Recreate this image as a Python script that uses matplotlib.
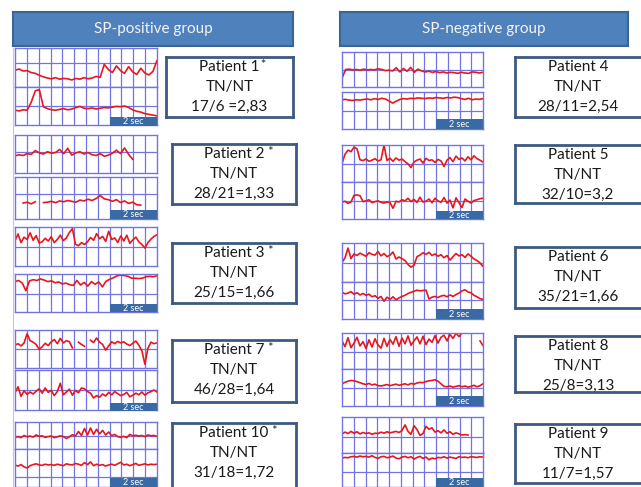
import numpy as np
import matplotlib
matplotlib.use("Agg")
import matplotlib.pyplot as plt

W, H = 641, 487
nan = np.nan

# ---------------- data ----------------
group_titles = ["SP-positive group", "SP-negative group"]
patient_ids = ["1", "2", "3", "7", "10", "4", "5", "6", "8", "9"]
sp_marked = [True, True, True, True, True, False, False, False, False, False]
asterisk_text = ["*", " *", " *", " *", " *", "", "", "", "", ""]
ratio_labels = ["17/6 =2,83", "28/21=1,33", "25/15=1,66", "46/28=1,64", "31/18=1,72",
                "28/11=2,54", "32/10=3,2", "35/21=1,66", "25/8=3,13", "11/7=1,57"]
record_seconds = 6.0
scale_seconds = 2.0

p1_top = [4.3, 4.6, 4.1, 4.2, 3.7, 3.5, 3.0, 2.6, 2.3, 2.1, 2.4, 2.0, 2.2, 2.1, 1.8, 2.2, 2.0, 2.4,
          2.1, 2.3, 2.7, 2.5, 5.8, 4.5, 3.7, 5.4, 4.2, 3.5, 5.2, 3.9, 3.2, 4.8, 3.6, 3.1, 4.0, 6.8]
p1_bot = [3.9, 3.7, 4.0, 3.9, 6.0, 9.0, 9.3, 4.8, 4.3, 4.0, 3.9, 4.1, 4.3, 4.0, 4.2, 4.6, 4.9, 4.4,
          4.3, 4.5, 4.2, 4.4, 4.6, 4.5, 4.7, 4.9, 4.8, 5.0, 4.6, 4.0, 3.6, 3.4, 3.0, 2.8, 2.6, 2.4]
p2_top = [4.5, 4.8, 4.6, 5.1, 4.9, 5.9, 5.3, 5.0, 5.6, 5.2, 5.4, 6.2, 5.1, 6.5, 4.7, 5.3, 5.6, 5.0,
          5.4, 4.8, 4.6, 5.1, 4.4, 4.7, 5.2, 6.0, 5.1, 6.6, 4.9, 3.6, nan, nan, nan, nan, nan, nan]
p2_bot = [3.0, nan, 3.8, 4.0, 3.6, 4.1, nan, 3.9, 4.0, 4.2, 3.9, 4.3, 4.1, 4.4, 4.2, 4.0, 4.5, 4.3,
          4.7, 4.4, 4.9, 5.6, 4.8, 4.6, 4.2, 4.6, 3.9, 4.3, 3.7, 4.0, 3.4, 3.3, nan, nan, nan, nan]
p3_top = [6.5, 8.2, 6.0, 7.4, 6.8, 8.5, 6.6, 7.8, 5.9, 6.2, 7.1, 6.4, 7.5, 6.0, 6.8, 7.9, 6.5, 7.2,
          8.6, 9.6, 5.6, 5.2, 6.0, 5.5, 6.2, 7.3, 6.6, 8.3, 7.0, 7.6, 6.3, 8.9, 6.8, 7.2, 6.0, 7.7,
          6.4, 7.9, 5.8, 6.7, 7.4, 6.2, 5.5, 4.6, 6.0, 6.9, 7.6, 8.0]
p3_bot = [8.0, 8.3, 7.6, 5.6, 8.2, 8.5, 8.3, 8.7, 8.4, 8.0, 8.2, 7.7, 7.9, 7.4, 7.6, 7.2, 7.0, 8.3,
          7.1, 7.8, 6.8, 8.0, 7.3, 7.9, 6.6, 8.1, 8.6, 9.0, 9.5, 9.7, 9.6, 9.4, 8.9, 8.9, 8.8, 8.9,
          9.3, 9.4, 9.3, 9.5]
p7_top = [6.0, 6.4, 5.8, 6.6, 9.0, 7.2, 6.8, 6.2, 4.9, 5.6, 6.5, 5.9, 6.9, 7.5, 6.4, 7.8, 6.6, 7.2,
          6.9, 5.3, nan, 6.8, 6.2, 5.7, nan, 7.3, 6.7, 7.9, 6.8, 6.2, 4.7, 5.8, 6.9, 6.4, 7.0, 6.6,
          6.9, 6.3, 5.9, 6.5, 7.1, 6.0, 4.5, 1.0, 5.2, 6.8, 6.4, 6.6]
p7_bot = [4.3, 5.8, 3.4, 4.8, 3.9, 4.5, 4.0, 4.7, 5.3, 4.2, 5.5, 4.4, 4.9, 3.6, 4.6, 6.7, 3.8, 4.5,
          5.2, 3.7, 4.9, 4.3, 5.5, 5.3, 4.6, 4.2, 3.0, 3.6, 3.2, 4.0, 3.5, 4.4, 3.8, 4.6, 4.1, 3.6,
          3.9, 4.4, 3.3, 3.7, 4.2, 3.8, 4.5, 3.7, 4.3, 4.6, 5.0, 4.5]
p10_top = [4.3, 4.6, 4.2, 5.0, 4.5, 4.8, 4.4, 5.2, 4.7, 4.9, 4.3, 4.6, 4.8, 4.2, 4.5, 4.9, 4.6, 3.9,
           4.5, 5.3, 4.8, 6.5, 5.0, 7.6, 5.2, 7.8, 5.4, 7.3, 5.6, 6.9, 5.2, 6.3, 4.9, 5.4, 4.6, 4.3,
           4.7, 4.2, 5.4, 4.9, 5.1, 4.8, 5.0, 4.6, 5.2, 4.9, 5.0, 4.7]
p10_bot = [5.8, 5.5, 5.9, 5.3, 5.0, 5.6, 5.9, 6.1, 5.8, 5.7, 6.0, 5.8, 5.9, 5.7, 6.0, 5.8, 5.6, 6.1,
           5.9, 5.8, 6.2, 6.0, 5.7, 6.4, 5.9, 6.6, 5.6, 6.0, 5.7, 5.9, 5.5, 5.8, 6.0, 5.7, 6.1, 6.5,
           5.8, 6.0, 5.6, 5.9, 6.2, 5.7, 5.9, 6.1, 5.8, 6.0, 5.9, 6.0]
p4_top = [2.5, 5.0, 5.1, 4.9, 5.0, 4.8, 5.1, 4.9, 5.0, 4.9, 5.2, 5.0, 4.7, 4.8, 4.6, 5.5, 4.3, 5.3,
          4.5, 5.6, 4.2, 5.1, 4.6, 4.3, 4.5, 4.2, 4.4, 4.1, 4.3, 4.0, 4.2, 4.1, 3.9, 4.2, 4.0, 3.9,
          4.3, 4.2, 4.0, 4.2]
p4_bot = [7.9, 8.0, 7.8, 7.7, 7.9, 7.8, 8.0, 8.1, 7.9, 8.2, 8.0, 8.3, 8.1, 7.6, 7.0, 7.5, 8.0, 8.2,
          8.1, 8.3, 8.2, 8.4, 8.3, 8.2, 8.4, 8.3, 8.5, 8.4, 8.3, 8.5, 8.4, 8.6, 8.5, 8.2, 8.0, 8.3,
          7.9, 8.1, 8.0, 8.2]
p5_top = [5.0, 7.5, 8.6, 8.2, 9.4, 9.0, 6.0, 5.8, 6.2, 5.6, 5.9, 6.3, 5.7, 6.0, 10.0, 5.8, 6.4, 5.6,
          6.5, 5.9, 6.2, 5.5, 4.9, 3.9, 5.4, 5.9, 6.2, 5.1, 6.4, 5.8, 6.0, 5.3, 6.1, 5.7, 4.2, 5.9,
          6.6, 5.5, 7.0, 6.1, 6.5, 5.7, 6.8, 6.0, 7.1, 6.3, 5.9, 5.4]
p5_bot = [4.5, 4.8, 4.2, 4.6, 6.4, 6.5, 6.3, 4.7, 4.9, 5.2, 4.4, 4.7, 4.9, 4.5, 4.3, 4.6, 4.4, 2.9,
          4.8, 4.6, 5.2, 4.9, 5.6, 4.7, 5.3, 4.5, 5.9, 4.6, 4.8, 5.4, 4.4, 5.6, 4.9, 4.5, 5.8, 4.3,
          5.1, 3.0, 5.7, 4.4, 3.1, 5.4, 4.8, 4.3, 5.0, 5.2, 5.5, 5.6]
p6_top = [5.0, 6.2, 8.7, 6.0, 7.2, 6.8, 7.4, 7.0, 6.6, 7.5, 7.1, 6.9, 7.8, 6.7, 7.3, 6.5, 6.9, 7.7,
          5.9, 6.4, 6.0, 5.5, 4.5, 3.8, 4.3, 6.5, 6.9, 7.5, 7.1, 7.6, 6.8, 7.2, 6.6, 7.0, 6.2, 6.8,
          5.6, 6.5, 7.3, 6.7, 7.0, 6.3, 7.2, 6.6, 5.9, 5.5, 4.9, 4.0]
p6_bot = [7.2, 6.8, 7.0, 7.4, 6.7, 7.1, 6.5, 6.9, 6.4, 6.7, 6.0, 6.3, 5.6, 6.1, 4.8, 5.9, 5.3, 6.0,
          5.2, 5.7, 6.1, 6.4, 6.9, 7.2, 7.5, 7.8, 7.6, 7.7, 7.8, 5.4, 5.9, 6.1, 5.8, 6.2, 6.4, 6.0,
          6.5, 6.1, 6.6, 7.0, 7.6, 7.9, 7.3, 7.1, 6.4, 6.0, 5.5, 5.3]
p8_top = [7.8, 6.2, 8.7, 5.9, 7.2, 8.8, 6.4, 7.6, 5.7, 8.1, 6.1, 8.4, 6.7, 5.8, 8.5, 6.3, 8.2, 6.9,
          9.0, 6.3, 8.6, 7.0, 9.2, 6.6, 7.8, 8.9, 7.0, 9.1, 6.8, 8.3, 7.4, 9.3, 7.2, 8.8, 9.4, 7.8,
          9.6, 8.5, 9.9, 9.0, 10.0, nan, nan, nan, nan, nan, 7.8, 6.5]
p8_bot = [6.0, 6.4, 6.7, 6.9, 6.8, 6.6, 6.3, 6.0, 5.8, 6.1, 5.7, 5.9, 5.5, 5.4, 5.6, 5.8, 5.5, 5.7,
          5.9, 5.6, 5.8, 6.0, 5.7, 6.1, 5.9, 6.2, 6.4, 6.3, 6.6, 6.8, 6.9, 7.1, 6.7, 6.0, 5.3, 5.2,
          5.4, 5.1, 5.3, 5.5, 5.2, 5.4, 5.1, 5.3, 5.6, 5.2, 5.5, 6.0]
p9_top = [5.3, 5.8, 5.4, 6.0, 5.5, 5.9, 5.3, 5.7, 5.4, 5.6, 5.2, 5.5, 5.4, 5.8, 5.5, 5.9, 5.6, 5.8,
          6.0, 5.7, 6.2, 7.8, 6.0, 5.2, 7.6, 6.5, 4.9, 5.4, 7.4, 6.6, 7.0, 5.8, 6.2, 5.6, 6.4, 5.5,
          5.9, 5.2, 5.6, 5.3, 5.0, 5.1, 5.0, nan, nan, nan, nan, nan]
p9_bot = [8.5, 8.7, 8.6, 8.9, 9.0, 8.8, 9.1, 8.9, 9.0, 8.8, 9.2, 8.7, 8.4, 8.9, 9.0, 8.6, 8.8, 9.1,
          8.5, 8.3, 8.8, 9.0, 8.6, 8.9, 8.2, 8.7, 9.0, 8.4, 8.8, 8.0, 8.5, 8.3, 8.7, 8.6, 8.9, 8.5,
          8.8, 8.6, 8.4, 8.9, 8.7, 8.8, 8.6, 8.9, 8.8, 8.7, 8.9, 8.8]

traces = {"1": (p1_top, p1_bot), "2": (p2_top, p2_bot), "3": (p3_top, p3_bot),
          "7": (p7_top, p7_bot), "10": (p10_top, p10_bot), "4": (p4_top, p4_bot),
          "5": (p5_top, p5_bot), "6": (p6_top, p6_bot), "8": (p8_top, p8_bot),
          "9": (p9_top, p9_bot)}

# ---------------- layout (pixels) ----------------
col_x = [(15, 157), (342, 483)]
header_px = [(13, 12, 293, 46), (340, 12, 628, 46)]
layout = {
    "1": dict(col=0, top=(48, 87, 6.2), bot=(87, 125, 5.0), sec=(117, 126), box=(166, 57, 293, 117)),
    "2": dict(col=0, top=(135, 173, 5.5), bot=(177, 219, 6.0), sec=(210, 219), box=(172, 144, 296, 204)),
    "3": dict(col=0, top=(227, 266, 5.0), bot=(274, 312, 4.7), sec=(304, 312), box=(172, 243, 296, 303)),
    "7": dict(col=0, top=(330, 368, 5.0), bot=(370, 410, 5.0), sec=(403, 411), box=(172, 340, 296, 402)),
    "10": dict(col=0, top=(422, 449, 5.0), bot=(449, 487, 2.6), sec=(478, 487), box=(172, 423, 296, 494)),
    "4": dict(col=1, top=(52, 87, 5.0), bot=(92, 129, 5.0), sec=(119, 129), box=(515, 57, 643, 117)),
    "5": dict(col=1, top=(145, 182, 5.0), bot=(182, 219, 5.0), sec=(211, 219), box=(515, 145, 643, 203)),
    "6": dict(col=1, top=(243, 282, 4.9), bot=(282, 319, 5.1), sec=(309, 319), box=(515, 247, 643, 308)),
    "8": dict(col=1, top=(333, 369, 4.7), bot=(369, 406, 4.9), sec=(396, 406), box=(515, 336, 643, 392)),
    "9": dict(col=1, top=(417, 453, 4.4), bot=(453, 487, 4.4), sec=(478, 487), box=(515, 424, 643, 483)),
}

GRID = "#7373e4"
RED = "#e8161e"
HEAD_FILL = "#4f81bd"
HEAD_EDGE = "#3a6595"
SEC_FILL = "#3a6aa6"
BOX_EDGE = "#3d5a80"
TXT = "#1a1a1a"
FONT = "Lato"

plt.rcParams['font.family'] = [FONT, 'DejaVu Sans']

fig = plt.figure(figsize=(W / 100, H / 100), dpi=100)
fig.patch.set_facecolor("white")


def px_axes(x0, y0, x1, y1, **kw):
    return fig.add_axes([x0 / W, 1 - y1 / H, (x1 - x0) / W, (y1 - y0) / H], **kw)


def bare(ax):
    ax.set_xticks([])
    ax.set_yticks([])


# faint left guide line
guide = px_axes(0, 0, W, H, zorder=-5)
guide.set_xlim(0, W)
guide.set_ylim(H, 0)
guide.axis("off")
guide.plot([13, 13], [48, 487], color="#c8c8c8", lw=0.8)

# headers
for (x0, y0, x1, y1), title in zip(header_px, group_titles):
    ax = px_axes(x0, y0, x1, y1)
    bare(ax)
    ax.set_facecolor(HEAD_FILL)
    for s in ax.spines.values():
        s.set_color(HEAD_EDGE)
        s.set_linewidth(1.5)
    ax.text(0.5, 0.5, title, color="#f4f4f4", fontsize=11, ha="center", va="center",
            transform=ax.transAxes)


def grid_panel(x0, x1, y0, y1, hline, values):
    ax = px_axes(x0, y0, x1, y1)
    bare(ax)
    ax.set_xlim(0, record_seconds)
    ax.set_ylim(0, 10)
    ax.set_facecolor("white")
    for s in ax.spines.values():
        s.set_color(GRID)
        s.set_linewidth(1.0)
    for xv in np.arange(0.5, record_seconds, 0.5):
        ax.axvline(xv, color=GRID, lw=0.9)
    ax.axhline(hline, color=GRID, lw=0.9)
    v = np.array(values, dtype=float)
    t = np.linspace(0, record_seconds, len(v))
    ax.plot(t, v, color=RED, lw=1.2, clip_on=True)
    return ax


for i, pid in enumerate(patient_ids):
    L = layout[pid]
    gx0, gx1 = col_x[L["col"]]
    top_vals, bot_vals = traces[pid]
    ty0, ty1, th = L["top"]
    by0, by1, bh = L["bot"]
    grid_panel(gx0, gx1, ty0, ty1, th, top_vals)
    grid_panel(gx0, gx1, by0, by1, bh, bot_vals)

    # 2 sec scale box
    frac = scale_seconds / record_seconds
    sx0 = gx1 - frac * (gx1 - gx0)
    sy0, sy1 = L["sec"]
    sax = px_axes(sx0, sy0, gx1, sy1)
    bare(sax)
    sax.set_facecolor(SEC_FILL)
    for s in sax.spines.values():
        s.set_visible(False)
    sax.text(0.5, 0.45, f"{int(scale_seconds)} sec", color="white", fontsize=6.5,
             ha="center", va="center", transform=sax.transAxes)

    # text box
    bx0, by0_, bx1, by1_ = L["box"]
    tax = px_axes(bx0, by0_, bx1, by1_)
    bare(tax)
    tax.set_facecolor("white")
    for s in tax.spines.values():
        s.set_color(BOX_EDGE)
        s.set_linewidth(2.0)
    hpx = by1_ - by0_
    ys = [1 - 10 / hpx, 1 - 30 / hpx, 1 - 50 / hpx]
    cx = 0.5
    if bx1 > W:
        cx = (0.5 * (bx0 + W) - bx0) / (bx1 - bx0)
    t1 = tax.text(cx, ys[0], f"Patient {pid}", fontsize=11, color=TXT,
                  ha="center", va="center", transform=tax.transAxes)
    if sp_marked[i]:
        tax.annotate(asterisk_text[i], xy=(1, 1), xycoords=t1, xytext=(0.2, 1.0),
                     textcoords="offset points", fontsize=9, color=TXT,
                     ha="left", va="top")
    tax.text(cx, ys[1], "TN/NT", fontsize=11, color=TXT,
             ha="center", va="center", transform=tax.transAxes)
    tax.text(cx, ys[2], ratio_labels[i], fontsize=11, color=TXT,
             ha="center", va="center", transform=tax.transAxes)

fig.savefig("out.png", dpi=100, facecolor="white")
